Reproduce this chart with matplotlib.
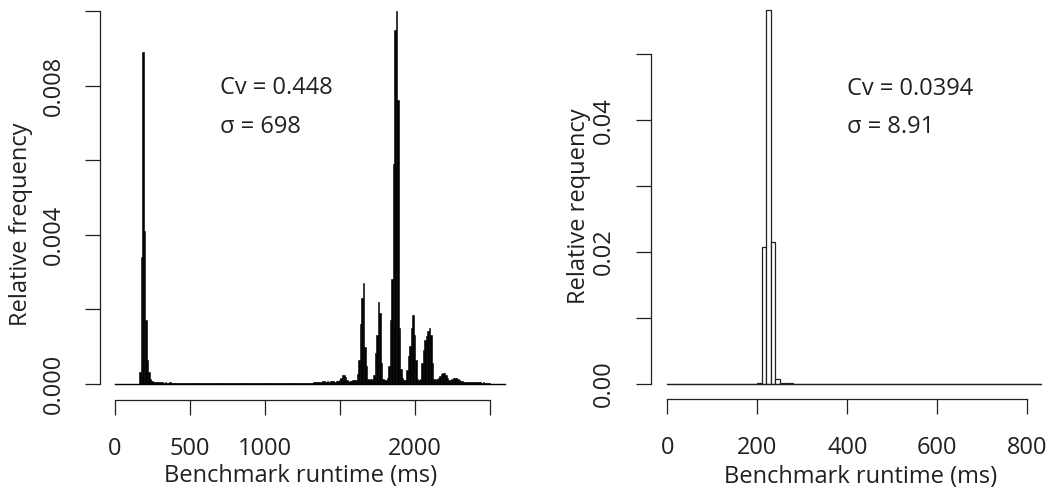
import numpy as np
import matplotlib
matplotlib.use("Agg")
import matplotlib.pyplot as plt
from matplotlib.ticker import FixedLocator, FixedFormatter

plt.rcParams['font.family'] = ['Open Sans', 'DejaVu Sans']
TEXT = '#231f20'
LINE = '#231f20'
FS = 17

# ---------------- data ----------------
bin_width_ms = 10

# Left panel: relative frequency per 10 ms bin, 0 .. 2600 ms
left_freq = [
    # 0 - 90
    0, 0, 0, 0, 0, 0, 0, 0, 0, 0,
    # 100 - 190
    0, 0, 0, 0, 0, 0, 0.0003, 0.0034, 0.0089, 0.0041,
    # 200 - 290
    0.0017, 0.00064, 0.0003, 0.00012, 0.00006, 0.00004, 0.00004, 0.00003, 0.00004, 0.00003,
    # 300 - 390
    0.00003, 0.00003, 0.00002, 0.00003, 0.00002, 0.00002, 0.00003, 0.00002, 0.00002, 0.00002,
    # 400 - 490
    0.00002, 0.00002, 0.00002, 0.00002, 0.00002, 0.00002, 0.00002, 0.00002, 0.00002, 0.00002,
    # 500 - 590
    0.00002, 0.00002, 0.00002, 0.00002, 0.00002, 0.00002, 0.00002, 0.00002, 0.00002, 0.00002,
    # 600 - 690
    0.00002, 0.00002, 0.00002, 0.00002, 0.00002, 0.00002, 0.00002, 0.00002, 0.00002, 0.00002,
    # 700 - 790
    0.00002, 0.00002, 0.00002, 0.00002, 0.00002, 0.00002, 0.00002, 0.00002, 0.00002, 0.00002,
    # 800 - 890
    0.00002, 0.00002, 0.00002, 0.00002, 0.00002, 0.00002, 0.00002, 0.00002, 0.00002, 0.00002,
    # 900 - 990
    0.00002, 0.00002, 0.00002, 0.00002, 0.00002, 0.00002, 0.00002, 0.00002, 0.00002, 0.00002,
    # 1000 - 1090
    0.00002, 0.00002, 0.00002, 0.00002, 0.00002, 0.00002, 0.00002, 0.00002, 0.00002, 0.00002,
    # 1100 - 1190
    0.00002, 0.00002, 0.00002, 0.00002, 0.00002, 0.00002, 0.00002, 0.00002, 0.00002, 0.00002,
    # 1200 - 1290
    0.00002, 0.00002, 0.00002, 0.00002, 0.00002, 0.00002, 0.00002, 0.00002, 0.00002, 0.00002,
    # 1300 - 1390
    0.00002, 0.00002, 0.00003, 0.00003, 0.00004, 0.00004, 0.00005, 0.00005, 0.00006, 0.00006,
    # 1400 - 1490
    0.00005, 0.00006, 0.00005, 0.00006, 0.00007, 0.00006, 0.00005, 0.00006, 0.00008, 0.0001,
    # 1500 - 1590
    0.00016, 0.00022, 0.00022, 0.00018, 0.0001, 0.00005, 0.00006, 0.00008, 0.0001, 0.0001,
    # 1600 - 1690
    0.0001, 0.00025, 0.00064, 0.0016, 0.0023, 0.0027, 0.00097, 0.00046, 0.00012, 0.0001,
    # 1700 - 1790
    0.00012, 0.0001, 0.00024, 0.00083, 0.0013, 0.0022, 0.0019, 0.00056, 0.00012, 0.0001,
    # 1800 - 1890
    0.0001, 0.00015, 0.00046, 0.0017, 0.0028, 0.0059, 0.0095, 0.0100, 0.0076, 0.0015,
    # 1900 - 1990
    0.0004, 0.00015, 0.0001, 0.0001, 0.00037, 0.00073, 0.0010, 0.0015, 0.00184, 0.0013,
    # 2000 - 2090
    0.00064, 0.00012, 0.0001, 0.00012, 0.00055, 0.00091, 0.00118, 0.00127, 0.0014, 0.0015,
    # 2100 - 2190
    0.0013, 0.00055, 0.00012, 0.0001, 0.00012, 0.00015, 0.0002, 0.00025, 0.00027, 0.00027,
    # 2200 - 2290
    0.00024, 0.00016, 0.0001, 0.0001, 0.00012, 0.00014, 0.00016, 0.00016, 0.00013, 0.0001,
    # 2300 - 2390
    0.00008, 0.00006, 0.00005, 0.00005, 0.00004, 0.00005, 0.00004, 0.00004, 0.00003, 0.00004,
    # 2400 - 2490
    0.00003, 0.00004, 0.00003, 0.00003, 0.00002, 0.00003, 0.00002, 0.00002, 0.00001, 0.00001,
    # 2500 - 2590
    0, 0, 0, 0, 0, 0, 0, 0, 0, 0,
]

# Right panel: relative frequency per 10 ms bin, 0 .. 830 ms
right_freq = (
    [0] * 20
    + [0.0002, 0.0208, 0.0567, 0.0215, 0.0007, 0.0001, 0.00008, 0.0001, 0.00006, 0.00004]
    + [0.00003, 0.00002, 0.00003, 0.00002, 0.00002, 0.00003, 0.00002, 0.00002, 0.00002, 0.00002]
    + [0.00002] * 20
    + [0.00001] * 23
)

left_xticks = [0, 500, 1000, 1500, 2000, 2500]
left_xlabels = ['0', '500', '1000', '', '2000', '']
left_yticks = [0, 0.002, 0.004, 0.006, 0.008, 0.010]
left_ylabels = ['0.000', '', '0.004', '', '0.008', '']

right_xticks = [0, 200, 400, 600, 800]
right_xlabels = ['0', '200', '400', '600', '800']
right_yticks = [0, 0.01, 0.02, 0.03, 0.04, 0.05]
right_ylabels = ['0.00', '', '0.02', '', '0.04', '']

left_stats = ['Cv = 0.448', 'σ = 698']
right_stats = ['Cv = 0.0394', 'σ = 8.91']

W, H = 1049, 497
fig = plt.figure(figsize=(W / 100, H / 100), dpi=100)


def px_axes(l, r, t, b):
    return fig.add_axes([l / W, 1 - b / H, (r - l) / W, (b - t) / H])


def style(ax, xt, xl, yt, yl, xb, yb):
    for s in ('top', 'right'):
        ax.spines[s].set_visible(False)
    for s in ('left', 'bottom'):
        ax.spines[s].set_color(LINE)
        ax.spines[s].set_linewidth(0.9)
    ax.spines['bottom'].set_bounds(*xb)
    ax.spines['left'].set_bounds(*yb)
    ax.xaxis.set_major_locator(FixedLocator(xt))
    ax.xaxis.set_major_formatter(FixedFormatter(xl))
    ax.yaxis.set_major_locator(FixedLocator(yt))
    ax.yaxis.set_major_formatter(FixedFormatter(yl))
    ax.tick_params(axis='both', direction='out', length=10.8, width=0.9,
                   color=LINE, labelsize=FS, labelcolor=TEXT)
    ax.tick_params(axis='x', pad=16)
    ax.tick_params(axis='y', pad=14)
    for lab in ax.get_yticklabels():
        lab.set_rotation(90)
        lab.set_va('center')
        lab.set_ha('right')
    ax.set_xlabel('Benchmark runtime (ms)', fontsize=FS, color=TEXT)


# ---------------- left panel ----------------
axL = px_axes(100, 520, 0, 400)
edgesL = np.arange(len(left_freq) + 1) * bin_width_ms
axL.bar(edgesL[:-1], left_freq, width=bin_width_ms, align='edge',
        color='black', edgecolor='black', linewidth=0.4)
axL.plot([edgesL[0], edgesL[-1]], [0, 0], color='black', lw=1.0)
axL.set_xlim((100 - 115) / 0.15, (520 - 115) / 0.15)
axL.set_ylim(-16.5 / 37250, 383.5 / 37250)
style(axL, left_xticks, left_xlabels, left_yticks, left_ylabels, (0, 2500), (0, 0.010))
axL.set_ylabel('Relative frequency', fontsize=FS, color=TEXT)
axL.text(700, 0.00776, left_stats[0], fontsize=FS, color=TEXT, ha='left', va='baseline')
axL.text(700, 0.00673, left_stats[1], fontsize=FS, color=TEXT, ha='left', va='baseline')

# ---------------- right panel ----------------
axR = px_axes(650.7, 1049, 0, 399)
edgesR = np.arange(len(right_freq) + 1) * bin_width_ms
axR.bar(edgesR[:-1], right_freq, width=bin_width_ms, align='edge',
        color='white', edgecolor=LINE, linewidth=0.9)
axR.plot([edgesR[0], edgesR[-1]], [0, 0], color=LINE, lw=0.9)
axR.set_xlim((650.7 - 667.3) / 0.45, (1049 - 667.3) / 0.45)
axR.set_ylim(-15 / 6594, 384 / 6594)
style(axR, right_xticks, right_xlabels, right_yticks, right_ylabels, (0, 800), (0, 0.05))
axR.set_ylabel('Relative requency', fontsize=FS, color=TEXT)
axR.text(400, 0.0439, right_stats[0], fontsize=FS, color=TEXT, ha='left', va='baseline')
axR.text(400, 0.0381, right_stats[1], fontsize=FS, color=TEXT, ha='left', va='baseline')

# axis-title placement (axes fraction)
axL.xaxis.set_label_coords((301 - 100) / 420, (400 - 476) / 400)
axL.xaxis.label.set_va('center')
axL.yaxis.set_label_coords((21 - 100) / 420, (400 - 224) / 400)
axL.yaxis.label.set_va('center')
axR.xaxis.set_label_coords((861 - 650.7) / 398.3, (399 - 477) / 399)
axR.xaxis.label.set_va('center')
axR.yaxis.set_label_coords((579 - 650.7) / 398.3, (399 - 206) / 399)
axR.yaxis.label.set_va('center')

fig.savefig('out.png', dpi=100)
